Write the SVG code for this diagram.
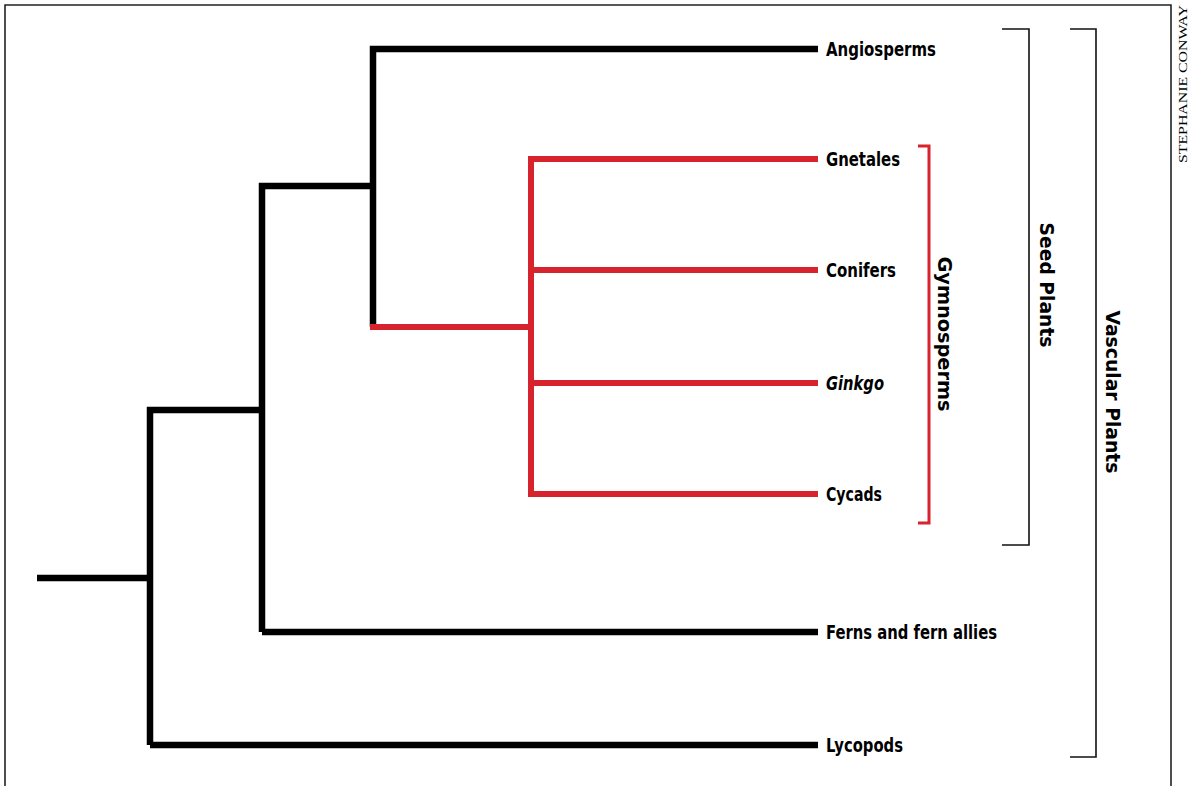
<svg xmlns="http://www.w3.org/2000/svg" width="1192" height="786" viewBox="0 0 1192 786">
<style>
.br{fill:none;stroke:#000;stroke-width:6.5;stroke-linecap:butt;stroke-linejoin:miter}
.rd{fill:none;stroke:#d7232e;stroke-width:6;stroke-linecap:butt;stroke-linejoin:miter}
.bk{fill:none;stroke:#111;stroke-width:1.6}
.bkr{fill:none;stroke:#d7232e;stroke-width:3}
.lb{font-family:"DejaVu Sans Condensed","DejaVu Sans",sans-serif;font-weight:bold;font-size:20px;fill:#000}
.cr{font-family:"Liberation Serif",serif;font-size:12px;fill:#000}
</style>
<rect x="0" y="0" width="1192" height="786" fill="#fff"/>
<path d="M5,786 V5 H1171 V786" fill="none" stroke="#222" stroke-width="1.6"/>
<g id="connectors">
<path class="br" d="M37,578 H150"/>
<path class="br" d="M150,745 V410 H262"/>
<path class="br" d="M262,632 V186 H373"/>
<path class="br" d="M150,745 H818"/>
<path class="br" d="M262,632 H818"/>
<path class="br" d="M373,327 V49 H818"/>
<path class="rd" d="M370,327 H531"/>
<path class="rd" d="M818,159 H531 V494 H818"/>
<path class="rd" d="M531,270 H818"/>
<path class="rd" d="M531,383 H818"/>
</g>
<g id="angiosperms"><text class="lb" x="826" y="56" textLength="110" lengthAdjust="spacingAndGlyphs">Angiosperms</text></g>
<g id="gnetales"><text class="lb" x="826" y="166" textLength="74" lengthAdjust="spacingAndGlyphs">Gnetales</text></g>
<g id="conifers"><text class="lb" x="826" y="277" textLength="70" lengthAdjust="spacingAndGlyphs">Conifers</text></g>
<g id="ginkgo"><text class="lb" x="826" y="390" font-style="italic" textLength="58" lengthAdjust="spacingAndGlyphs">Ginkgo</text></g>
<g id="cycads"><text class="lb" x="826" y="501" textLength="56" lengthAdjust="spacingAndGlyphs">Cycads</text></g>
<g id="ferns"><text class="lb" x="826" y="639" textLength="171" lengthAdjust="spacingAndGlyphs">Ferns and fern allies</text></g>
<g id="lycopods"><text class="lb" x="826" y="752" textLength="77" lengthAdjust="spacingAndGlyphs">Lycopods</text></g>
<g id="gymnosperms">
<path class="bkr" d="M918,146 H929 V523 H918"/>
<text class="lb" transform="translate(938,334) rotate(90)" text-anchor="middle" textLength="155" lengthAdjust="spacingAndGlyphs">Gymnosperms</text>
</g>
<g id="seed-plants">
<path class="bk" d="M1002,29 H1029 V545 H1002"/>
<text class="lb" transform="translate(1040,285) rotate(90)" text-anchor="middle" textLength="125" lengthAdjust="spacingAndGlyphs">Seed Plants</text>
</g>
<g id="vascular-plants">
<path class="bk" d="M1070,29 H1096 V757 H1070"/>
<text class="lb" transform="translate(1106,392) rotate(90)" text-anchor="middle" textLength="163" lengthAdjust="spacingAndGlyphs">Vascular Plants</text>
</g>
<text class="cr" transform="translate(1187,84) rotate(-90)" text-anchor="middle" textLength="158" lengthAdjust="spacingAndGlyphs">STEPHANIE CONWAY</text>
</svg>
